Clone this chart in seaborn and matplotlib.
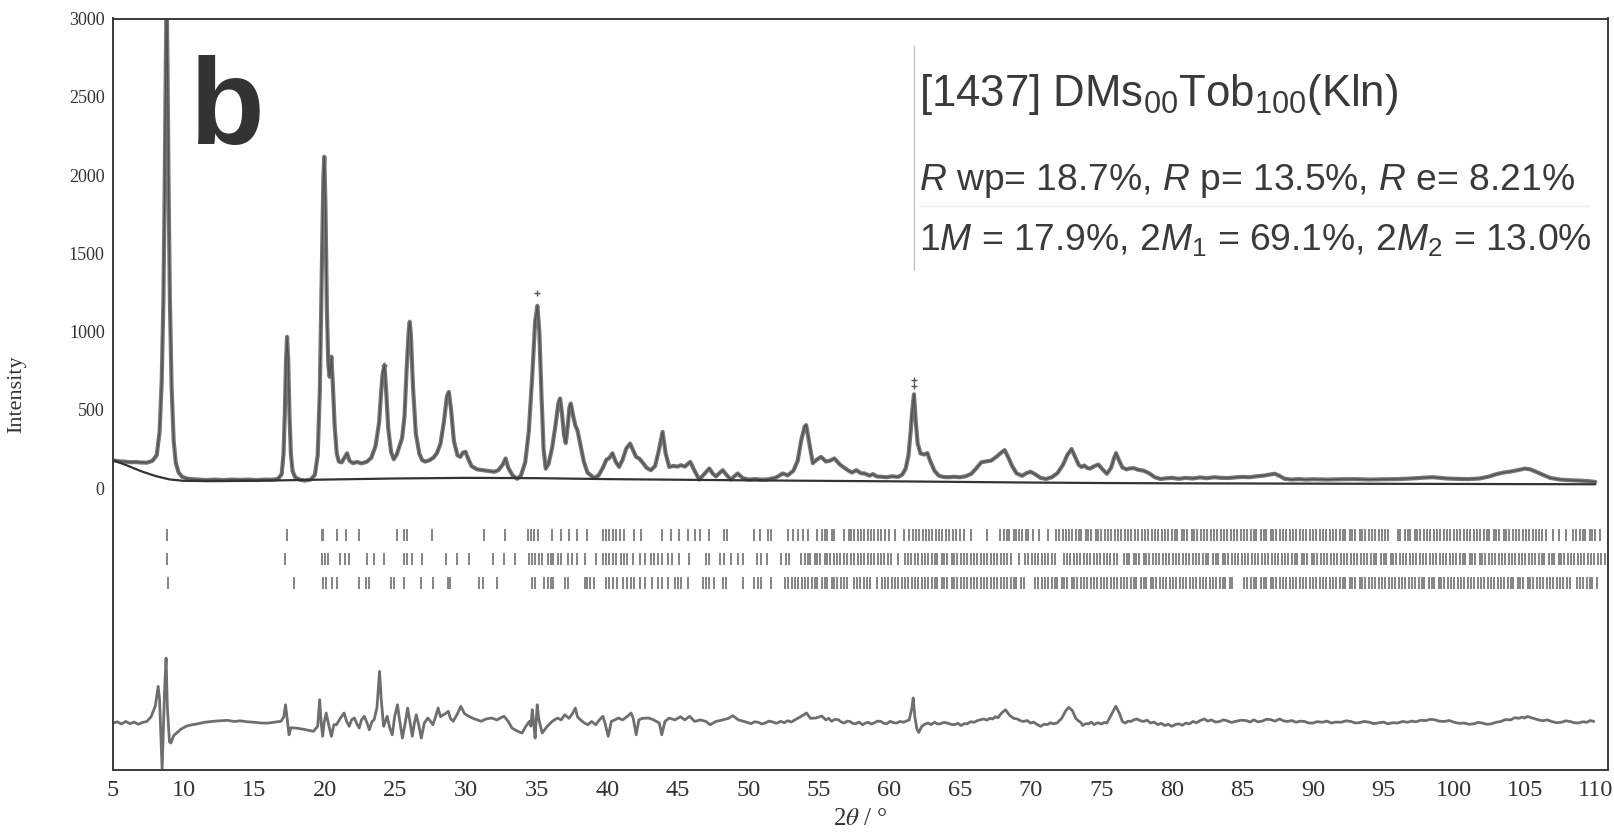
import matplotlib
matplotlib.use('Agg')
import numpy as np
import pandas as pd
import matplotlib.pyplot as plt
from matplotlib.lines import Line2D
import seaborn as sns

# Rietveld plot, sample [1437] DMs00Tob100(Kln)

obs_pts = [
    (5.0, 178), (5.4, 172), (5.8, 170), (6.2, 166), (6.6, 167), (7.0, 164), (7.4, 163), (7.8, 175),
    (8.1, 212), (8.3, 360), (8.45, 680), (8.57, 1200), (8.66, 1900), (8.74, 2700), (8.8, 3150),
    (8.86, 2700), (8.94, 1900), (9.03, 1200), (9.15, 650), (9.3, 300), (9.45, 160), (9.65, 100),
    (9.9, 72), (10.3, 60), (11.0, 55), (11.6, 52), (12.2, 55), (12.8, 52), (13.4, 55), (14.0, 53),
    (14.6, 55), (15.2, 52), (15.8, 55), (16.3, 54), (16.7, 60), (16.95, 90), (17.08, 220),
    (17.17, 480), (17.26, 820), (17.33, 967), (17.41, 820), (17.5, 470), (17.6, 220), (17.72, 110),
    (17.9, 70), (18.2, 55), (18.6, 48), (19.0, 55), (19.3, 85), (19.5, 210), (19.65, 620),
    (19.78, 1350), (19.9, 1980), (19.97, 2117), (20.05, 1800), (20.15, 1150), (20.25, 790),
    (20.35, 711), (20.47, 840), (20.58, 650), (20.7, 400), (20.85, 220), (21.0, 170), (21.2, 165),
    (21.4, 195), (21.58, 223), (21.75, 175), (22.0, 160), (22.3, 168), (22.6, 158), (23.0, 170),
    (23.3, 195), (23.6, 270), (23.85, 420), (24.0, 620), (24.1, 730), (24.23, 786), (24.35, 620),
    (24.5, 380), (24.7, 230), (24.89, 185), (25.1, 215), (25.3, 270), (25.48, 320), (25.65, 460),
    (25.8, 760), (25.95, 1010), (26.02, 1063), (26.1, 980), (26.25, 650), (26.45, 350), (26.7, 220),
    (26.9, 180), (27.1, 170), (27.4, 178), (27.7, 195), (27.95, 225), (28.2, 285), (28.45, 430),
    (28.65, 585), (28.79, 615), (28.95, 500), (29.15, 300), (29.4, 210), (29.6, 200), (29.8, 228),
    (29.97, 232), (30.15, 190), (30.4, 140), (30.8, 120), (31.2, 115), (31.6, 110), (32.0, 105),
    (32.3, 115), (32.6, 150), (32.81, 190), (33.0, 130), (33.3, 82), (33.64, 60), (33.9, 82),
    (34.2, 165), (34.45, 360), (34.7, 720), (34.9, 1060), (35.06, 1165), (35.2, 1000), (35.35, 600),
    (35.5, 250), (35.65, 125), (35.85, 155), (36.1, 255), (36.35, 405), (36.55, 545), (36.67, 573),
    (36.8, 480), (36.95, 340), (37.07, 288), (37.2, 385), (37.33, 515), (37.43, 541), (37.6, 460),
    (37.75, 400), (37.9, 370), (38.1, 280), (38.35, 170), (38.61, 100), (39.08, 65), (39.4, 82),
    (39.7, 130), (39.95, 182), (40.15, 192), (40.38, 223), (40.6, 170), (40.85, 136), (41.1, 182),
    (41.35, 252), (41.63, 285), (41.85, 240), (42.05, 200), (42.27, 190), (42.55, 160), (42.8, 130),
    (43.1, 115), (43.4, 142), (43.65, 235), (43.93, 360), (44.15, 220), (44.4, 136), (44.7, 142),
    (45.0, 138), (45.23, 147), (45.5, 138), (45.89, 168), (46.2, 110), (46.53, 55), (46.9, 92),
    (47.24, 126), (47.5, 92), (47.71, 75), (48.0, 100), (48.19, 115), (48.5, 80), (48.78, 55),
    (49.0, 75), (49.25, 94), (49.6, 65), (50.0, 55), (50.5, 58), (51.0, 54), (51.4, 57), (51.9, 66),
    (52.2, 80), (52.44, 94), (52.8, 82), (53.2, 112), (53.5, 175), (53.75, 305), (54.0, 395),
    (54.1, 403), (54.3, 300), (54.57, 160), (54.85, 182), (55.16, 200), (55.5, 170), (55.8, 176),
    (56.1, 190), (56.5, 150), (57.05, 115), (57.35, 100), (57.65, 115), (58.0, 95), (58.24, 94),
    (58.6, 80), (58.83, 90), (59.1, 75), (59.42, 73), (59.8, 70), (60.2, 76), (60.6, 72), (60.9, 86),
    (61.15, 125), (61.35, 210), (61.5, 360), (61.62, 500), (61.74, 600), (61.86, 430), (62.0, 285),
    (62.2, 222), (62.45, 215), (62.69, 224), (62.9, 170), (63.2, 110), (63.5, 80), (63.8, 72),
    (64.2, 70), (64.6, 73), (65.0, 70), (65.4, 76), (65.8, 92), (66.2, 132), (66.5, 165), (66.85, 171),
    (67.2, 176), (67.6, 202), (67.9, 226), (68.16, 243), (68.4, 200), (68.7, 140), (69.0, 95),
    (69.4, 79), (69.7, 96), (70.0, 105), (70.3, 90), (70.7, 66), (71.1, 59), (71.5, 70), (71.9, 96),
    (72.3, 150), (72.6, 212), (72.9, 250), (73.15, 200), (73.4, 150), (73.6, 135), (73.8, 145),
    (74.0, 130), (74.2, 125), (74.5, 140), (74.8, 151), (75.1, 120), (75.4, 92), (75.7, 130),
    (75.9, 190), (76.05, 224), (76.25, 180), (76.5, 132), (76.8, 120), (77.0, 126), (77.3, 128),
    (77.6, 118), (78.0, 112), (78.4, 95), (78.8, 70), (79.2, 59), (79.6, 63), (80.0, 66), (80.5, 60),
    (81.0, 66), (81.5, 62), (82.0, 69), (82.5, 64), (83.0, 70), (83.5, 66), (84.0, 65), (84.5, 69),
    (85.0, 72), (85.5, 70), (86.0, 76), (86.5, 80), (87.0, 88), (87.3, 92), (87.6, 80), (88.0, 60),
    (88.5, 55), (89.0, 58), (89.5, 55), (90.0, 57), (91.0, 55), (92.0, 57), (93.0, 58), (94.0, 55),
    (95.0, 57), (96.0, 58), (97.0, 62), (98.0, 68), (98.5, 70), (99.0, 66), (99.5, 62), (100.0, 60),
    (101.0, 58), (101.8, 62), (102.5, 75), (103.0, 90), (103.5, 100), (104.0, 106), (104.5, 115),
    (105.0, 125), (105.4, 120), (105.8, 105), (106.3, 85), (106.8, 66), (107.5, 55), (108.0, 52),
    (108.5, 50), (109.0, 48), (109.5, 45), (110.0, 40),
]

# single observed points sitting above the fitted peaks
spike_tt = [35.05, 61.73, 61.77, 24.22]
spike_int = [1244, 690, 655, 790]

# refined background
bg_tt = [5, 6, 7, 8, 9, 10, 12, 15, 20, 25, 30, 35, 40, 45, 50, 55, 60, 65, 70, 75, 80, 85,
         90, 95, 100, 105, 110]
bg_int = [179, 145, 108, 78, 56, 47, 45, 47, 55, 62, 66, 64, 58, 54, 50, 47, 44, 40, 36, 33, 31,
          30, 29, 28, 27, 26, 25]

# difference curve obs - calc
diff_pts = [
    (5.0, 0), (5.3, 8), (5.6, -6), (5.9, 10), (6.2, -4), (6.5, 6), (6.8, -8), (7.1, 4), (7.4, 10),
    (7.7, 40), (8.0, 110), (8.2, 234), (8.3, 150), (8.42, -150), (8.48, -298), (8.55, -100),
    (8.65, 200), (8.76, 415), (8.85, 100), (9.0, -120), (9.1, -128), (9.3, -80), (9.5, -64),
    (9.8, -40), (10.2, -20), (10.6, -11), (11.0, -5), (11.5, 5), (12.0, 10), (12.5, 14), (13.1, 17),
    (13.6, 10), (14.0, 14), (14.5, 8), (15.0, 5), (15.5, 0), (16.0, 0), (16.5, 6), (16.9, 11),
    (17.1, 40), (17.22, 117), (17.35, 20), (17.47, -75), (17.6, -30), (17.95, -32), (18.5, -40),
    (19.2, -53), (19.5, -20), (19.64, 149), (19.75, 0), (19.85, -85), (19.95, 0), (20.1, 64),
    (20.3, -20), (20.47, -85), (20.65, -10), (20.83, -11), (21.1, 30), (21.37, 64), (21.55, 10),
    (21.73, -21), (21.9, 20), (22.1, 32), (22.3, -10), (22.44, -32), (22.6, 20), (22.8, 43),
    (23.0, 0), (23.16, -43), (23.35, 10), (23.5, 21), (23.7, 100), (23.88, 330), (24.0, 150),
    (24.17, -21), (24.3, 10), (24.42, 43), (24.6, -30), (24.78, -75), (24.95, 40), (25.15, 117),
    (25.3, 20), (25.5, -96), (25.7, 0), (25.87, 96), (26.05, 0), (26.2, -85), (26.35, 0),
    (26.48, 53), (26.65, -10), (26.84, -96), (27.05, 0), (27.3, 32), (27.5, 10), (27.66, -11),
    (27.85, 40), (28.03, 96), (28.2, 40), (28.4, 53), (28.55, 60), (28.75, 75), (28.9, 30),
    (29.1, 11), (29.4, 60), (29.64, 107), (29.9, 60), (30.2, 43), (30.5, 30), (30.8, 20),
    (31.08, 11), (31.4, 25), (31.8, 32), (32.2, 20), (32.5, 35), (32.7, 43), (33.0, 10),
    (33.26, -32), (33.6, -50), (33.98, -64), (34.25, -20), (34.5, 11), (34.6, -20), (34.7, 85),
    (34.8, 0), (34.9, -96), (34.98, 20), (35.05, 117), (35.15, 30), (35.4, -64), (35.76, -21),
    (36.1, 10), (36.48, 32), (36.75, 20), (37.0, 53), (37.3, 30), (37.55, 60), (37.75, 96),
    (37.9, 40), (38.1, 21), (38.4, 0), (38.64, -11), (38.9, 10), (39.2, -11), (39.45, 20),
    (39.7, 43), (39.85, 0), (40.08, -85), (40.3, 10), (40.55, 20), (40.8, 32), (41.1, 20),
    (41.4, 40), (41.7, 64), (41.85, 30), (42.06, -75), (42.25, 20), (42.5, 30), (42.95, 32),
    (43.3, 20), (43.7, 0), (43.87, -75), (44.1, 10), (44.4, 32), (44.8, 20), (45.2, 40), (45.5, 20),
    (45.85, 43), (46.2, 10), (46.6, 20), (47.0, 10), (47.3, -11), (47.7, 10), (48.2, 20), (48.6, 30),
    (48.9, 47), (49.3, 20), (49.7, 10), (50.2, -4), (50.45, 8), (50.7, 5), (50.95, -6), (51.2, 0),
    (51.45, 12), (51.7, 8), (52.0, -2), (52.3, 11), (52.55, 2), (52.8, 15), (53.05, 6), (53.3, 20),
    (53.7, 40), (54.13, 64), (54.4, 30), (54.8, 32), (55.2, 45), (55.5, 20), (55.7, 30),
    (55.9, 11), (56.15, 24), (56.4, 20), (56.6, 6), (56.8, 0), (57.0, 12), (57.2, 10), (57.4, -2),
    (57.6, -5), (57.85, 6), (58.1, -11), (58.3, 0), (58.5, 5), (58.7, -6), (58.9, 0), (59.15, 12),
    (59.4, 10), (59.6, -2), (59.8, -5), (60.06, 11), (60.3, 2), (60.5, 0), (60.75, 10), (61.0, 5),
    (61.4, 20), (61.6, 100), (61.68, 160), (61.8, 40), (61.95, -40), (62.08, -60), (62.3, -20),
    (62.5, -8), (62.74, 0), (62.95, -10), (63.2, 5), (63.4, -6), (63.6, -5), (63.85, 4), (64.1, 0),
    (64.35, -8), (64.6, -11), (64.85, -2), (65.07, -16), (65.3, -4), (65.5, -5), (65.75, 8),
    (66.0, 5), (66.2, 14), (66.4, 20), (66.7, 26), (66.9, 18), (67.1, 30), (67.3, 26), (67.5, 40),
    (67.7, 34), (67.9, 60), (68.22, 85), (68.5, 50), (68.8, 30), (69.05, 26), (69.3, 14),
    (69.5, 10), (69.75, 16), (70.0, 0), (70.2, 6), (70.4, -5), (70.55, -14), (70.71, -21),
    (70.95, -8), (71.2, -10), (71.4, 2), (71.6, -5), (71.87, 0), (72.2, 30), (72.5, 80), (72.7, 100),
    (72.95, 80), (73.2, 30), (73.37, 15), (73.55, 4), (73.7, -16), (73.9, -4), (74.1, -5),
    (74.3, 6), (74.5, -10), (74.75, 2), (75.03, -6), (75.2, 4), (75.4, 0), (75.7, 50), (76.03, 107),
    (76.3, 60), (76.5, 10), (76.7, 0), (76.9, 12), (77.1, 10), (77.3, 20), (77.52, 26), (77.8, 14),
    (78.0, 10), (78.25, 18), (78.5, 0), (78.75, 6), (79.0, -10), (79.25, -2), (79.5, -16),
    (79.75, -8), (80.0, -21), (80.25, -10), (80.5, -5), (80.75, -14), (81.0, 0), (81.25, -6),
    (81.5, 10), (81.75, 2), (82.0, 15), (82.3, 26), (82.55, 12), (82.8, 20), (83.1, 6), (83.4, 10),
    (83.65, 20), (83.9, 15), (84.2, 4), (84.5, 10), (84.9, 18), (85.3, 15), (85.55, 6), (85.8, 20),
    (86.1, 8), (86.4, 12), (86.7, 24), (87.0, 22), (87.3, 12), (87.65, 26), (87.9, 14), (88.2, 10),
    (88.5, 16), (88.8, 5), (89.1, 12), (89.4, 10), (89.7, 0), (90.0, 0), (90.3, 9), (90.64, 5),
    (91.0, 12), (91.3, 0), (91.6, 6), (92.0, 5), (92.35, 14), (92.7, 10), (93.0, 0), (93.3, 3),
    (93.65, 10), (94.0, 5), (94.3, -4), (94.6, 0), (95.0, 6), (95.3, -5), (95.65, 2), (96.0, 0),
    (96.35, 10), (96.7, 5), (97.0, 12), (97.3, 8), (97.65, 18), (98.0, 15), (98.3, 24), (98.6, 21),
    (98.95, 12), (99.3, 10), (99.65, 16), (100.0, 5), (100.35, -2), (100.7, 0), (101.05, -8),
    (101.4, -5), (101.7, 4), (102.0, 0), (102.3, -8), (102.6, -6), (102.95, 4), (103.3, 10),
    (103.65, 22), (104.0, 20), (104.3, 34), (104.6, 30), (104.8, 38), (105.0, 32), (105.2, 42),
    (105.4, 36), (105.6, 30), (105.8, 25), (106.05, 18), (106.3, 15), (106.6, 20), (106.9, 10),
    (107.25, 2), (107.6, 5), (107.9, 14), (108.2, 10), (108.5, 2), (108.8, 0), (109.1, 8),
    (109.4, 5), (109.65, 16), (109.9, 10),
]

# reflection positions, 2theta, for the three polytypes
ticks_1m = [
    8.8, 17.3, 19.8, 19.9, 20.9, 21.5, 22.4, 25.1, 25.6, 25.8, 27.6, 31.3, 32.8, 34.4, 34.6, 34.8,
    35.1, 36.1, 36.7, 37.3, 37.9, 38.6, 39.7, 39.9, 40.1, 40.4, 40.6, 40.9, 41.2, 41.9, 42.4, 43.9,
    44.5, 45.1, 45.7, 46.2, 46.6, 47.2, 48.3, 48.5, 50.4, 50.8, 51.4, 51.6, 52.8, 53.2, 53.5, 53.9,
    54.2, 54.9, 55.2, 55.4, 55.6, 55.9, 56.1, 56.8, 57.1, 57.3, 57.5, 57.8, 58.0, 58.2, 58.5, 58.7,
    58.9, 59.2, 59.4, 59.7, 60.0, 60.4, 61.0, 61.4, 61.7, 61.9, 62.1, 62.4, 62.6, 62.8, 63.0, 63.3,
    63.5, 63.7, 64.0, 64.2, 64.5, 64.7, 65.0, 65.3, 65.8, 66.9, 67.8, 68.1, 68.3, 68.5, 68.8, 69.0,
    69.2, 69.4, 69.7, 69.8, 70.2, 70.6, 71.2, 71.8, 72.0, 72.3, 72.5, 72.7, 72.9, 73.2, 73.4, 73.6,
    73.9, 74.1, 74.3, 74.6, 74.8, 75.0, 75.3, 75.5, 75.7, 76.0, 76.2, 76.4, 76.7, 76.9, 77.1, 77.4,
    77.6, 77.9, 78.1, 78.3, 78.6, 78.8, 79.0, 79.3, 79.5, 79.7, 80.0, 80.2, 80.4, 80.7, 80.9, 81.1,
    81.4, 81.6, 81.8, 82.1, 82.3, 82.5, 82.8, 83.0, 83.2, 83.5, 83.7, 83.9, 84.2, 84.4, 84.6, 84.9,
    85.1, 85.3, 85.6, 85.8, 86.0, 86.3, 86.5, 86.7, 87.0, 87.2, 87.4, 87.7, 87.9, 88.1, 88.4, 88.6,
    88.8, 89.1, 89.3, 89.5, 89.8, 90.0, 90.2, 90.5, 90.7, 90.9, 91.2, 91.4, 91.6, 91.9, 92.1, 92.3,
    92.6, 92.8, 93.0, 93.3, 93.5, 93.7, 94.0, 94.2, 94.4, 94.7, 94.9, 95.1, 95.3, 96.0, 96.2, 96.5,
    96.7, 96.9, 97.2, 97.4, 97.6, 97.9, 98.1, 98.3, 98.6, 98.8, 99.0, 99.3, 99.5, 99.7, 100.0, 100.2,
    100.4, 100.7, 100.9, 101.1, 101.4, 101.6, 101.8, 102.1, 102.3, 102.5, 102.8, 103.0, 103.2,
    103.5, 103.7, 103.9, 104.2, 104.4, 104.6, 104.9, 105.1, 105.3, 105.6, 105.8, 106.0, 106.2,
    106.5, 107.0, 107.4, 107.9, 108.4, 108.6, 108.9, 109.1, 109.3, 109.6, 109.8, 110.0, 110.3,
]
ticks_2m1 = [
    8.8, 17.2, 19.8, 20.0, 20.2, 21.1, 21.4, 21.7, 23.0, 23.5, 24.2, 25.6, 25.8, 26.2, 26.9, 28.6,
    29.4, 30.2, 31.9, 32.7, 33.5, 34.5, 34.7, 34.9, 35.2, 35.4, 35.8, 36.0, 36.2, 36.5, 36.7, 37.2,
    37.5, 37.9, 38.4, 39.2, 39.7, 39.9, 40.1, 40.4, 40.6, 41.0, 41.2, 41.4, 41.8, 42.3, 42.7, 43.1,
    43.3, 43.6, 43.9, 44.3, 44.6, 45.1, 45.8, 47.0, 47.2, 48.0, 48.3, 48.8, 49.3, 49.6, 50.6, 50.9,
    51.3, 52.3, 52.7, 52.9, 53.7, 54.0, 54.2, 54.4, 54.7, 54.9, 55.1, 55.4, 55.6, 55.8, 56.1, 56.3,
    56.5, 56.8, 57.0, 57.3, 57.5, 57.8, 58.0, 58.2, 58.5, 58.7, 58.9, 59.2, 59.4, 59.6, 59.9, 60.1,
    60.6, 61.1, 61.3, 61.5, 61.8, 62.0, 62.3, 62.5, 62.7, 63.0, 63.2, 63.4, 63.7, 63.9, 64.1, 64.4,
    64.6, 64.8, 65.1, 65.3, 65.5, 65.8, 66.0, 66.2, 66.5, 66.7, 66.9, 67.2, 67.4, 67.6, 67.9, 68.1,
    68.3, 68.6, 69.2, 69.6, 69.8, 70.1, 70.3, 70.5, 70.8, 71.0, 71.2, 71.5, 71.7, 72.4, 72.6, 72.8,
    73.1, 73.3, 73.5, 73.8, 74.0, 74.2, 74.5, 74.7, 74.9, 75.2, 75.4, 75.6, 75.9, 76.1, 76.6, 76.8,
    77.0, 77.3, 77.5, 77.7, 78.0, 78.2, 78.4, 78.7, 78.9, 79.1, 79.4, 79.6, 79.8, 80.1, 80.3, 80.5,
    80.8, 81.0, 81.2, 81.5, 81.7, 81.9, 82.2, 82.4, 82.6, 82.9, 83.1, 83.3, 83.6, 83.8, 84.0, 84.3,
    84.5, 84.7, 85.0, 85.2, 85.4, 85.7, 85.9, 86.1, 86.4, 86.6, 86.8, 87.1, 87.3, 87.5, 87.8, 88.0,
    88.2, 88.5, 88.7, 88.9, 89.2, 89.4, 89.6, 89.9, 90.1, 90.3, 90.6, 90.8, 91.0, 91.3, 91.5, 91.7,
    92.0, 92.2, 92.4, 92.7, 92.9, 93.1, 93.4, 93.6, 93.8, 94.1, 94.3, 94.5, 94.8, 95.0, 95.2, 95.5,
    95.7, 95.9, 96.2, 96.4, 96.6, 96.9, 97.1, 97.3, 97.6, 97.8, 98.0, 98.3, 98.5, 98.7, 99.0, 99.2,
    99.4, 99.7, 99.9, 100.1, 100.4, 100.6, 100.8, 101.1, 101.3, 101.5, 101.8, 102.0, 102.2, 102.5,
    102.7, 102.9, 103.2, 103.4, 103.6, 103.9, 104.1, 104.3, 104.6, 104.8, 105.0, 105.3, 105.5,
    105.7, 106.0, 106.2, 106.4, 106.7, 106.9, 107.1, 107.4, 107.6, 107.8, 108.1, 108.3, 108.5,
    108.8, 109.0, 109.2, 109.5, 109.7, 109.9, 110.2, 110.4, 110.7,
]
ticks_2m2 = [
    8.9, 17.8, 19.9, 20.1, 20.5, 20.9, 22.4, 22.9, 23.1, 24.7, 24.9, 25.6, 26.8, 27.7, 28.7, 28.9,
    30.9, 31.2, 32.2, 34.7, 34.9, 35.5, 35.8, 36.0, 36.2, 37.0, 37.2, 38.4, 38.6, 38.8, 39.1, 39.9,
    40.1, 40.4, 40.7, 41.1, 41.4, 41.7, 41.9, 42.3, 42.7, 43.2, 43.6, 43.9, 44.3, 44.8, 45.0, 45.2,
    45.7, 46.8, 47.0, 47.2, 47.6, 48.2, 48.4, 49.6, 50.4, 50.7, 50.9, 51.6, 52.6, 52.8, 53.1, 53.3,
    53.5, 53.8, 54.0, 54.2, 54.5, 54.7, 54.9, 55.2, 55.4, 55.6, 55.9, 56.1, 56.3, 56.6, 56.8, 57.0,
    57.5, 57.7, 57.9, 58.2, 58.4, 58.6, 59.1, 59.5, 59.7, 59.9, 60.2, 60.4, 60.6, 60.9, 61.1, 61.3,
    61.6, 61.8, 62.0, 62.3, 62.5, 62.7, 63.0, 63.2, 63.4, 63.7, 63.9, 64.1, 64.4, 64.6, 64.8, 65.1,
    65.3, 65.5, 65.8, 66.0, 66.2, 66.5, 66.7, 66.9, 67.2, 67.4, 67.6, 67.9, 68.1, 68.3, 68.6, 68.8,
    69.0, 69.3, 69.5, 70.3, 70.5, 70.8, 71.0, 71.2, 71.5, 71.7, 71.9, 72.2, 72.4, 72.6, 72.9, 73.1,
    73.3, 73.6, 73.8, 74.0, 74.3, 74.5, 74.7, 75.0, 75.2, 75.4, 75.7, 75.9, 76.1, 76.4, 76.6, 76.8,
    77.1, 77.3, 77.5, 77.8, 78.0, 78.2, 78.5, 78.7, 78.9, 79.2, 79.4, 79.6, 79.9, 80.1, 80.3, 80.6,
    80.8, 81.0, 81.3, 81.5, 81.7, 82.0, 82.2, 82.4, 82.7, 82.9, 83.1, 83.4, 83.6, 83.8, 84.1, 84.3,
    85.1, 85.3, 85.6, 85.8, 86.0, 86.3, 86.5, 86.7, 87.0, 87.2, 87.4, 87.7, 87.9, 88.1, 88.4, 88.6,
    88.8, 89.1, 89.3, 89.5, 89.8, 90.0, 90.2, 90.5, 90.7, 90.9, 91.2, 91.4, 91.6, 91.9, 92.1, 92.3,
    92.6, 92.8, 93.0, 93.3, 93.5, 93.7, 94.0, 94.2, 94.4, 94.7, 94.9, 95.1, 95.4, 95.6, 95.8, 96.1,
    96.3, 96.5, 96.8, 97.0, 97.2, 97.5, 97.7, 97.9, 98.2, 98.4, 98.6, 98.9, 99.1, 99.3, 99.6, 99.8,
    100.0, 100.3, 100.5, 100.7, 101.0, 101.2, 101.4, 101.7, 101.9, 102.1, 102.4, 102.6, 102.8,
    103.1, 103.3, 103.5, 103.8, 104.0, 104.2, 104.5, 104.7, 104.9, 105.2, 105.4, 105.6, 105.9,
    106.1, 106.3, 106.6, 106.8, 107.0, 107.3, 107.5, 107.7, 108.0, 108.2, 108.7, 108.9, 109.1,
    109.4, 109.6, 109.8, 110.1,
]

x_ticks = list(range(5, 111, 5))
y_ticks = [0, 500, 1000, 1500, 2000, 2500, 3000]

obs = pd.DataFrame(obs_pts, columns=['tt', 'counts'])
diff = pd.DataFrame(diff_pts, columns=['tt', 'counts'])
bg = pd.DataFrame({'tt': bg_tt, 'counts': bg_int})

# layout: where the tick rows and the difference curve sit
diff_offset = -1500
tick_rows = [(ticks_1m, -340, -262), (ticks_2m1, -493, -415), (ticks_2m2, -645, -567)]

sns.set_theme(style='white')
plt.rcParams['font.family'] = ['Liberation Serif', 'DejaVu Serif']
plt.rcParams['mathtext.fontset'] = 'custom'
plt.rcParams['mathtext.rm'] = 'Liberation Sans'
plt.rcParams['mathtext.it'] = 'Liberation Sans:italic'

W, H = 1614, 832
fig = plt.figure(figsize=(W / 100, H / 100), dpi=100)
ax = fig.add_axes([113 / W, 62 / H, (1608 - 113) / W, (770 - 18.5) / H])

line_grey = '#777777'
# observed band and calculated line
sns.lineplot(data=obs, x='tt', y='counts', ax=ax, color=line_grey, linewidth=3.0,
             estimator=None, sort=False)
sns.lineplot(data=obs, x='tt', y='counts', ax=ax, color='#4f4f4f', linewidth=0.9,
             estimator=None, sort=False)
sns.scatterplot(x=spike_tt, y=spike_int, ax=ax, marker='+', color='#555555', s=18, linewidth=1)
sns.lineplot(data=bg, x='tt', y='counts', ax=ax, color='#333333', linewidth=1.6,
             estimator=None, sort=False)
sns.lineplot(x=diff['tt'], y=diff['counts'] + diff_offset, ax=ax, color='#6e6e6e',
             linewidth=2.0, estimator=None, sort=False)

for pos, y0, y1 in tick_rows:
    ax.vlines(pos, y0, y1, colors='#808080', linewidth=1.35)

ax.set_xlim(5, 110.9)
ax.set_ylim(-1800, 3000)
ax.set_xticks(x_ticks)
ax.set_yticks(y_ticks)
ax.tick_params(axis='x', direction='in', length=6, width=1, colors='#333333',
               labelsize=17.5, pad=7)
ax.tick_params(axis='y', direction='out', length=4, width=1, colors='#333333',
               labelsize=13, pad=2)
for s in ax.spines.values():
    s.set_color('#3a3a3a')
    s.set_linewidth(1.4)

ax.set_ylabel('Intensity', fontsize=16, color='#333333')
ax.yaxis.set_label_coords(-0.058, 0.5)
ax.set_xlabel('2$\\theta$ / °', fontsize=18, color='#333333', math_fontfamily='stix')
ax.xaxis.set_label_coords(0.5, -0.05)

# panel letter and refinement summary
txt = '#3a3a3a'
fig.text(190 / W, 1 - 144 / H, 'b', family='Liberation Sans', weight='bold', fontsize=88,
         color='#333333', va='baseline')
fig.text(919 / W, 1 - 106 / H, '[1437] DMs$_{00}$Tob$_{100}$(Kln)', family='Liberation Sans',
         fontsize=31.5, color=txt, va='baseline')
fig.text(919 / W, 1 - 190 / H, '$R$ wp= 18.7%, $R$ p= 13.5%, $R$ e= 8.21%',
         family='Liberation Sans', fontsize=26.8, color=txt, va='baseline')
fig.text(919 / W, 1 - 250 / H, '1$M$ = 17.9%, 2$M_1$ = 69.1%, 2$M_2$ = 13.0%',
         family='Liberation Sans', fontsize=26.8, color=txt, va='baseline')
fig.add_artist(Line2D([914 / W, 914 / W], [1 - 46 / H, 1 - 270 / H], color='#c4c4c4', lw=1))
fig.add_artist(Line2D([919 / W, 1590 / W], [1 - 206 / H, 1 - 206 / H], color='#ececec', lw=1))

fig.savefig('out.png', dpi=100, facecolor='white')
